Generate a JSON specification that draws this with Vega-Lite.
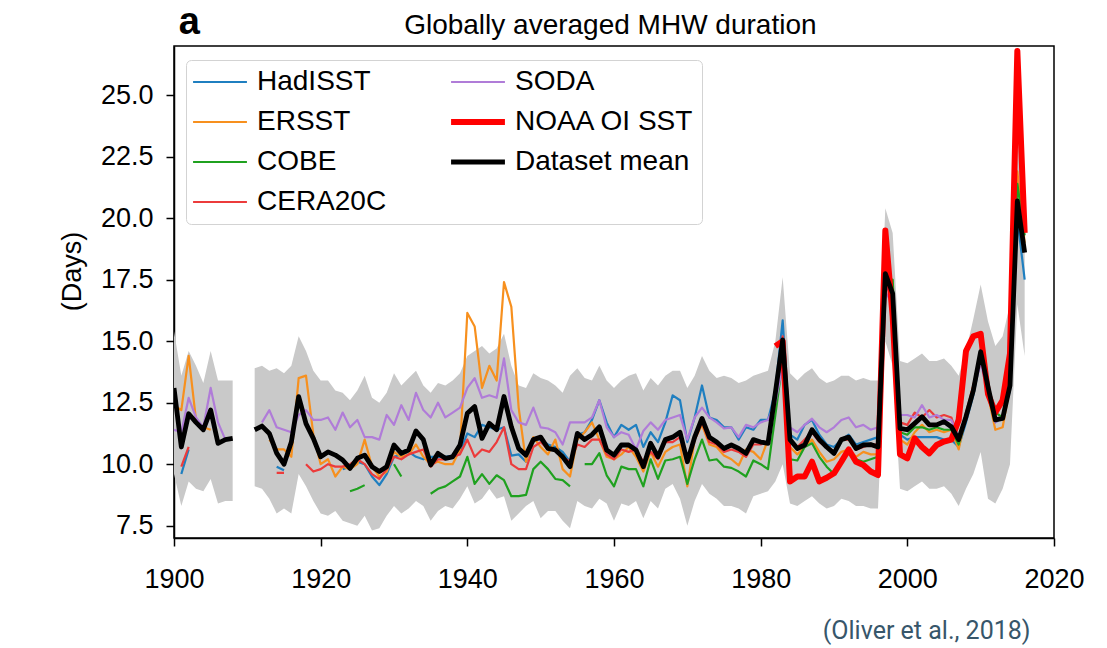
{
  "$schema": "https://vega.github.io/schema/vega-lite/v6.json",
  "width": 880,
  "height": 492,
  "autosize": {"type": "none"},
  "padding": {"left": 174, "top": 46, "right": 53, "bottom": 110},
  "background": "white",
  "config": {
    "view": {"stroke": "black", "strokeWidth": 1.5},
    "line": {"invalid": "break-paths-filter-domains"},
    "area": {"invalid": "break-paths-filter-domains"},
    "axis": {
      "grid": false,
      "domainColor": "black",
      "domainWidth": 1.5,
      "tickColor": "black",
      "tickWidth": 1.5,
      "tickSize": 8,
      "labelFont": "Liberation Sans",
      "labelFontSize": 27,
      "labelColor": "black",
      "labelFlush": false,
      "titleFont": "Liberation Sans",
      "titleFontSize": 27,
      "titleFontWeight": "normal",
      "titleColor": "black"
    },
    "axisX": {"labelPadding": 20},
    "axisY": {
      "labelPadding": 13,
      "titleAngle": 270,
      "titleX": -102,
      "titleY": 225,
      "titleAlign": "center",
      "titleBaseline": "middle"
    },
    "legend": {
      "orient": "none",
      "legendX": 12,
      "legendY": 14,
      "title": null,
      "columns": 2,
      "strokeColor": "#d3d3d3",
      "fillColor": "white",
      "cornerRadius": 5,
      "padding": 8,
      "labelFont": "Liberation Sans",
      "labelFontSize": 28,
      "labelColor": "black",
      "labelLimit": 0,
      "symbolOffset": 12,
      "labelOffset": 23,
      "symbolType": "stroke",
      "symbolSize": 2900,
      "symbolStrokeWidth": 2.2,
      "rowPadding": 12,
      "columnPadding": 52
    }
  },
  "data": {
    "values": [
      {"yr": 1900, "ers": 12.4, "soda": 11.4, "mean": 13.1, "lo": 9.6, "hi": 15.4},
      {"yr": 1901, "had": 9.6, "ers": 12.2, "cera": 9.9, "soda": 11.3, "mean": 10.7, "lo": 8.3, "hi": 13.6},
      {"yr": 1902, "had": 10.6, "ers": 14.4, "cera": 10.7, "soda": 12.7, "mean": 12.05, "lo": 9.3, "hi": 14.6},
      {"yr": 1903, "ers": 11.8, "soda": 11.9, "mean": 11.7, "lo": 9.0, "hi": 14.0},
      {"yr": 1904, "ers": 11.5, "soda": 11.5, "mean": 11.4, "lo": 8.9, "hi": 13.3},
      {"yr": 1905, "ers": 11.4, "soda": 13.1, "mean": 12.2, "lo": 9.4, "hi": 14.6},
      {"yr": 1906, "soda": 11.7, "mean": 10.85, "lo": 8.4, "hi": 13.4},
      {"yr": 1907, "soda": 11.0, "mean": 11.0, "lo": 8.5, "hi": 13.4},
      {"yr": 1908, "mean": 11.05, "lo": 8.5, "hi": 13.4},
      {"yr": 1909},
      {"yr": 1910},
      {"yr": 1911, "mean": 11.4, "lo": 9.1, "hi": 13.9},
      {"yr": 1912, "soda": 11.7, "mean": 11.55, "lo": 9.0, "hi": 14.0},
      {"yr": 1913, "ers": 11.0, "soda": 12.2, "mean": 11.25, "lo": 8.6, "hi": 13.8},
      {"yr": 1914, "had": 9.9, "ers": 10.6, "cera": 9.65, "soda": 11.5, "mean": 10.45, "lo": 8.0, "hi": 13.9},
      {"yr": 1915, "had": 9.75, "ers": 10.6, "cera": 9.65, "soda": 11.4, "mean": 10.0, "lo": 8.2, "hi": 13.7},
      {"yr": 1916, "ers": 10.3, "soda": 11.3, "mean": 10.9, "lo": 8.0, "hi": 14.0},
      {"yr": 1917, "ers": 13.5, "soda": 12.0, "mean": 12.75, "lo": 9.6, "hi": 15.2},
      {"yr": 1918, "ers": 13.6, "cera": 10.0, "soda": 12.2, "mean": 11.65, "lo": 9.1, "hi": 14.6},
      {"yr": 1919, "ers": 11.2, "cera": 9.7, "soda": 11.8, "mean": 11.05, "lo": 8.5, "hi": 13.8},
      {"yr": 1920, "ers": 10.0, "cera": 9.8, "soda": 11.8, "mean": 10.3, "lo": 8.0, "hi": 13.4},
      {"yr": 1921, "ers": 10.2, "cera": 10.0, "soda": 11.9, "mean": 10.5, "lo": 7.9, "hi": 13.4},
      {"yr": 1922, "ers": 9.5, "cera": 9.9, "soda": 11.4, "mean": 10.37, "lo": 8.1, "hi": 13.0},
      {"yr": 1923, "had": 9.8, "ers": 9.9, "cera": 9.9, "soda": 12.1, "mean": 10.17, "lo": 7.7, "hi": 12.9},
      {"yr": 1924, "had": 9.9, "ers": 9.8, "cobe": 8.9, "cera": 10.0, "soda": 11.5, "mean": 9.83, "lo": 7.6, "hi": 12.6},
      {"yr": 1925, "had": 10.1, "ers": 10.0, "cobe": 9.0, "cera": 10.2, "soda": 11.8, "mean": 10.24, "lo": 7.5, "hi": 13.0},
      {"yr": 1926, "had": 10.0, "ers": 11.0, "cobe": 9.15, "cera": 10.0, "soda": 11.1, "mean": 10.37, "lo": 7.9, "hi": 13.6},
      {"yr": 1927, "had": 9.5, "ers": 9.9, "cera": 9.6, "soda": 11.1, "mean": 9.9, "lo": 7.3, "hi": 12.7},
      {"yr": 1928, "had": 9.15, "ers": 9.5, "cera": 9.4, "soda": 11.0, "mean": 9.7, "lo": 7.4, "hi": 12.5},
      {"yr": 1929, "had": 9.6, "ers": 9.7, "cera": 9.8, "soda": 12.0, "mean": 9.9, "lo": 7.9, "hi": 12.9},
      {"yr": 1930, "had": 10.3, "ers": 10.5, "cobe": 10.0, "cera": 10.3, "soda": 11.6, "mean": 10.78, "lo": 8.3, "hi": 13.7},
      {"yr": 1931, "had": 10.4, "ers": 10.3, "cobe": 9.5, "cera": 10.2, "soda": 12.4, "mean": 10.44, "lo": 8.0, "hi": 13.2},
      {"yr": 1932, "had": 10.5, "ers": 10.4, "cera": 10.4, "soda": 11.8, "mean": 10.58, "lo": 8.2, "hi": 13.5},
      {"yr": 1933, "had": 10.3, "ers": 10.8, "cera": 10.5, "soda": 12.9, "mean": 11.35, "lo": 8.5, "hi": 13.8},
      {"yr": 1934, "had": 10.2, "ers": 10.3, "cera": 10.6, "soda": 12.2, "mean": 11.0, "lo": 8.3, "hi": 13.2},
      {"yr": 1935, "had": 10.3, "ers": 10.0, "cobe": 8.8, "cera": 9.9, "soda": 11.9, "mean": 9.97, "lo": 7.7, "hi": 12.9},
      {"yr": 1936, "had": 10.3, "ers": 10.1, "cobe": 9.0, "cera": 10.2, "soda": 12.5, "mean": 10.44, "lo": 8.1, "hi": 13.3},
      {"yr": 1937, "had": 10.3, "ers": 10.0, "cobe": 9.1, "cera": 10.2, "soda": 11.9, "mean": 10.24, "lo": 8.3, "hi": 13.2},
      {"yr": 1938, "had": 10.35, "ers": 10.0, "cobe": 9.3, "cera": 10.3, "soda": 12.1, "mean": 10.3, "lo": 8.2, "hi": 13.4},
      {"yr": 1939, "had": 10.5, "ers": 10.6, "cobe": 9.5, "cera": 10.4, "soda": 12.3, "mean": 10.78, "lo": 8.6, "hi": 13.7},
      {"yr": 1940, "had": 11.25, "ers": 16.15, "cobe": 10.3, "cera": 11.0, "soda": 13.1, "mean": 12.07, "lo": 9.1, "hi": 14.4},
      {"yr": 1941, "had": 11.1, "ers": 15.6, "cobe": 9.2, "cera": 10.3, "soda": 13.5, "mean": 12.34, "lo": 8.4, "hi": 14.6},
      {"yr": 1942, "had": 11.6, "ers": 13.1, "cobe": 9.6, "cera": 10.6, "soda": 12.7, "mean": 11.05, "lo": 8.6, "hi": 14.8},
      {"yr": 1943, "had": 11.5, "ers": 14.0, "cobe": 9.2, "cera": 10.5, "soda": 12.8, "mean": 11.66, "lo": 9.0, "hi": 14.5},
      {"yr": 1944, "had": 11.4, "ers": 13.4, "cobe": 9.55, "cera": 10.9, "soda": 12.7, "mean": 11.4, "lo": 8.6, "hi": 14.7},
      {"yr": 1945, "had": 11.5, "ers": 17.4, "cobe": 9.35, "cera": 11.5, "soda": 14.3, "mean": 12.75, "lo": 8.7, "hi": 15.3},
      {"yr": 1946, "had": 10.35, "ers": 16.4, "cobe": 8.7, "cera": 10.0, "soda": 12.2, "mean": 11.52, "lo": 7.7, "hi": 14.0},
      {"yr": 1947, "had": 10.4, "ers": 12.3, "cobe": 8.7, "cera": 9.8, "soda": 11.7, "mean": 10.64, "lo": 8.0, "hi": 13.2},
      {"yr": 1948, "had": 10.1, "ers": 10.1, "cobe": 8.75, "cera": 9.8, "soda": 11.6, "mean": 10.37, "lo": 8.3, "hi": 13.1},
      {"yr": 1949, "had": 11.0, "ers": 11.1, "cobe": 9.8, "cera": 10.7, "soda": 12.3, "mean": 11.0, "lo": 8.5, "hi": 13.7},
      {"yr": 1950, "had": 11.0, "ers": 10.7, "cobe": 10.1, "cera": 10.9, "soda": 11.5, "mean": 11.1, "lo": 7.8, "hi": 13.5},
      {"yr": 1951, "had": 10.8, "ers": 10.4, "cobe": 9.8, "cera": 10.6, "soda": 11.45, "mean": 10.64, "lo": 8.1, "hi": 13.4},
      {"yr": 1952, "had": 10.7, "ers": 11.0, "cobe": 9.4, "cera": 10.6, "soda": 11.3, "mean": 10.58, "lo": 8.1, "hi": 13.2},
      {"yr": 1953, "had": 10.5, "ers": 9.8, "cobe": 9.35, "cera": 10.3, "soda": 10.8, "mean": 10.3, "lo": 7.7, "hi": 12.9},
      {"yr": 1954, "had": 10.1, "ers": 9.5, "cobe": 9.1, "cera": 10.1, "soda": 11.7, "mean": 9.9, "lo": 7.4, "hi": 13.6},
      {"yr": 1955, "had": 11.2, "ers": 11.0, "cera": 10.8, "soda": 11.7, "mean": 11.25, "lo": 8.5, "hi": 13.9},
      {"yr": 1956, "had": 11.3, "ers": 11.3, "cobe": 10.0, "cera": 10.7, "soda": 11.7, "mean": 11.0, "lo": 8.3, "hi": 13.5},
      {"yr": 1957, "had": 11.8, "ers": 11.7, "cobe": 10.0, "cera": 11.0, "soda": 11.9, "mean": 11.2, "lo": 8.2, "hi": 13.4},
      {"yr": 1958, "had": 12.6, "ers": 11.0, "cobe": 10.45, "cera": 11.0, "soda": 12.6, "mean": 11.52, "lo": 8.6, "hi": 14.0},
      {"yr": 1959, "had": 11.7, "ers": 10.3, "cobe": 9.55, "cera": 10.4, "soda": 11.5, "mean": 10.58, "lo": 8.4, "hi": 13.4},
      {"yr": 1960, "had": 11.1, "ers": 10.2, "cobe": 9.1, "cera": 10.2, "soda": 11.1, "mean": 10.37, "lo": 7.7, "hi": 13.1},
      {"yr": 1961, "had": 11.6, "ers": 10.4, "cobe": 9.9, "cera": 10.6, "soda": 11.3, "mean": 10.78, "lo": 8.4, "hi": 13.4},
      {"yr": 1962, "had": 11.4, "ers": 10.7, "cobe": 9.8, "cera": 10.5, "soda": 11.2, "mean": 10.78, "lo": 8.3, "hi": 13.6},
      {"yr": 1963, "had": 11.6, "ers": 10.3, "cobe": 9.8, "cera": 10.6, "soda": 10.6, "mean": 10.58, "lo": 8.5, "hi": 13.7},
      {"yr": 1964, "had": 10.7, "ers": 9.7, "cobe": 9.1, "cera": 10.1, "soda": 11.35, "mean": 9.9, "lo": 7.8, "hi": 13.0},
      {"yr": 1965, "had": 11.3, "ers": 10.5, "cobe": 10.2, "cera": 10.5, "soda": 11.7, "mean": 10.85, "lo": 8.5, "hi": 13.5},
      {"yr": 1966, "had": 10.9, "ers": 9.9, "cobe": 9.4, "cera": 10.2, "soda": 11.4, "mean": 10.3, "lo": 8.2, "hi": 13.2},
      {"yr": 1967, "had": 11.7, "ers": 10.5, "cobe": 10.15, "cera": 10.9, "soda": 11.8, "mean": 11.0, "lo": 9.0, "hi": 13.6},
      {"yr": 1968, "had": 12.8, "ers": 10.7, "cobe": 10.2, "cera": 10.9, "soda": 11.9, "mean": 11.1, "lo": 9.2, "hi": 13.8},
      {"yr": 1969, "had": 12.6, "ers": 10.8, "cobe": 10.3, "cera": 11.1, "soda": 12.0, "mean": 11.3, "lo": 8.6, "hi": 13.8},
      {"yr": 1970, "had": 10.9, "ers": 9.1, "cobe": 9.2, "cera": 10.1, "soda": 11.0, "mean": 10.1, "lo": 7.5, "hi": 13.1},
      {"yr": 1971, "had": 11.9, "ers": 11.0, "cobe": 10.2, "cera": 11.0, "soda": 11.9, "mean": 11.1, "lo": 8.5, "hi": 13.6},
      {"yr": 1972, "had": 13.2, "ers": 11.6, "cobe": 11.0, "cera": 11.7, "soda": 12.3, "mean": 11.86, "lo": 9.2, "hi": 14.4},
      {"yr": 1973, "had": 11.9, "ers": 10.8, "cobe": 10.15, "cera": 10.9, "soda": 11.9, "mean": 11.1, "lo": 8.8, "hi": 13.8},
      {"yr": 1974, "had": 11.8, "ers": 10.7, "cobe": 10.2, "cera": 10.8, "soda": 11.7, "mean": 10.9, "lo": 8.6, "hi": 13.5},
      {"yr": 1975, "had": 11.5, "ers": 10.35, "cobe": 9.9, "cera": 10.5, "soda": 11.45, "mean": 10.64, "lo": 8.3, "hi": 13.6},
      {"yr": 1976, "had": 11.5, "ers": 10.2, "cobe": 9.85, "cera": 10.6, "soda": 11.5, "mean": 10.78, "lo": 8.3, "hi": 13.5},
      {"yr": 1977, "had": 11.0, "ers": 9.95, "cobe": 9.7, "cera": 10.5, "soda": 11.1, "mean": 10.64, "lo": 8.2, "hi": 13.3},
      {"yr": 1978, "had": 11.5, "ers": 10.6, "cobe": 9.5, "cera": 10.3, "soda": 11.6, "mean": 10.44, "lo": 8.0, "hi": 13.4},
      {"yr": 1979, "had": 11.4, "ers": 10.5, "cobe": 10.15, "cera": 10.8, "soda": 11.5, "mean": 11.0, "lo": 8.7, "hi": 13.6},
      {"yr": 1980, "had": 11.8, "ers": 10.2, "cobe": 10.0, "cera": 10.8, "soda": 11.7, "mean": 10.9, "lo": 8.8, "hi": 13.7},
      {"yr": 1981, "had": 11.8, "ers": 11.0, "cobe": 9.8, "cera": 10.9, "soda": 11.8, "mean": 10.85, "lo": 8.9, "hi": 13.8},
      {"yr": 1982, "had": 13.0, "ers": 12.4, "cobe": 12.0, "cera": 12.6, "soda": 12.5, "noaa": 14.8, "mean": 12.9, "lo": 9.3, "hi": 15.0},
      {"yr": 1983, "had": 15.85, "ers": 14.6, "cobe": 14.2, "cera": 15.2, "soda": 14.0, "noaa": 15.0, "mean": 15.05, "lo": 10.0, "hi": 17.6},
      {"yr": 1984, "had": 11.2, "ers": 10.7, "cobe": 10.2, "cera": 11.0, "soda": 11.5, "noaa": 9.3, "mean": 11.0, "lo": 8.4, "hi": 13.7},
      {"yr": 1985, "had": 11.0, "ers": 10.4, "cobe": 10.15, "cera": 10.7, "soda": 11.3, "noaa": 9.5, "mean": 10.64, "lo": 8.3, "hi": 13.4},
      {"yr": 1986, "had": 11.6, "ers": 10.7, "cobe": 10.7, "cera": 11.0, "soda": 11.6, "noaa": 9.5, "mean": 10.78, "lo": 8.5, "hi": 13.7},
      {"yr": 1987, "had": 11.8, "ers": 11.0, "cobe": 10.85, "cera": 11.3, "soda": 11.85, "noaa": 10.1, "mean": 11.4, "lo": 8.7, "hi": 13.9},
      {"yr": 1988, "had": 11.2, "ers": 10.5, "cobe": 10.3, "cera": 10.9, "soda": 11.5, "noaa": 9.3, "mean": 11.0, "lo": 8.4, "hi": 13.5},
      {"yr": 1989, "had": 10.8, "ers": 10.1, "cobe": 9.9, "cera": 10.7, "soda": 11.3, "noaa": 9.45, "mean": 10.7, "lo": 8.2, "hi": 13.3},
      {"yr": 1990, "had": 10.7, "ers": 10.2, "cobe": 9.6, "cera": 10.5, "soda": 11.5, "noaa": 9.63, "mean": 10.44, "lo": 8.3, "hi": 13.4},
      {"yr": 1991, "had": 11.0, "ers": 10.5, "cobe": 10.15, "cera": 11.0, "soda": 11.8, "noaa": 10.1, "mean": 11.0, "lo": 8.6, "hi": 13.6},
      {"yr": 1992, "had": 11.2, "ers": 10.6, "cobe": 10.6, "cera": 11.0, "soda": 11.9, "noaa": 10.6, "mean": 11.1, "lo": 8.5, "hi": 13.6},
      {"yr": 1993, "had": 10.8, "ers": 10.3, "cobe": 10.2, "cera": 10.6, "soda": 11.5, "noaa": 10.1, "mean": 10.64, "lo": 8.3, "hi": 13.4},
      {"yr": 1994, "had": 10.9, "ers": 10.5, "cobe": 10.1, "cera": 10.7, "soda": 11.6, "noaa": 9.97, "mean": 10.78, "lo": 8.3, "hi": 13.5},
      {"yr": 1995, "had": 11.0, "ers": 10.4, "cobe": 10.2, "cera": 10.8, "soda": 11.4, "noaa": 9.7, "mean": 10.8, "lo": 8.2, "hi": 13.4},
      {"yr": 1996, "had": 11.1, "ers": 10.4, "cobe": 10.3, "cera": 10.8, "soda": 11.5, "noaa": 9.56, "mean": 10.7, "lo": 8.2, "hi": 13.4},
      {"yr": 1997, "had": 17.3, "ers": 17.5, "cobe": 17.6, "cera": 17.6, "soda": 17.0, "noaa": 19.5, "mean": 17.75, "lo": 15.0, "hi": 20.4},
      {"yr": 1998, "had": 16.8, "ers": 17.0, "cobe": 17.5, "cera": 17.0, "soda": 16.5, "noaa": 16.0, "mean": 16.94, "lo": 14.0, "hi": 19.4},
      {"yr": 1999, "had": 11.2, "ers": 11.0, "cobe": 11.3, "cera": 11.7, "soda": 12.0, "noaa": 10.4, "mean": 11.46, "lo": 9.0, "hi": 14.2},
      {"yr": 2000, "had": 11.0, "ers": 10.8, "cobe": 11.2, "cera": 11.6, "soda": 12.0, "noaa": 10.24, "mean": 11.4, "lo": 8.9, "hi": 14.1},
      {"yr": 2001, "had": 11.1, "ers": 11.3, "cobe": 11.5, "cera": 12.1, "soda": 11.9, "noaa": 11.05, "mean": 11.66, "lo": 9.1, "hi": 14.3},
      {"yr": 2002, "had": 11.1, "ers": 11.6, "cobe": 11.5, "cera": 11.9, "soda": 12.4, "noaa": 10.7, "mean": 11.93, "lo": 9.3, "hi": 14.5},
      {"yr": 2003, "had": 11.1, "ers": 11.3, "cobe": 11.4, "cera": 12.2, "soda": 11.9, "noaa": 10.44, "mean": 11.6, "lo": 9.0, "hi": 14.2},
      {"yr": 2004, "had": 11.1, "ers": 11.4, "cobe": 11.5, "cera": 11.9, "soda": 12.0, "noaa": 10.78, "mean": 11.6, "lo": 9.0, "hi": 14.2},
      {"yr": 2005, "had": 11.0, "ers": 11.3, "cobe": 11.4, "cera": 12.0, "soda": 11.8, "noaa": 10.92, "mean": 11.73, "lo": 9.1, "hi": 14.3},
      {"yr": 2006, "had": 11.0, "ers": 11.4, "cobe": 11.4, "cera": 11.9, "soda": 11.8, "noaa": 11.0, "mean": 11.52, "lo": 8.8, "hi": 14.0},
      {"yr": 2007, "had": 10.7, "ers": 10.6, "cobe": 10.8, "cera": 11.0, "soda": 11.1, "noaa": 11.8, "mean": 11.0, "lo": 8.3, "hi": 13.6},
      {"yr": 2008, "had": 11.7, "ers": 12.0, "cobe": 11.9, "cera": 12.1, "soda": 12.0, "noaa": 14.6, "mean": 11.93, "lo": 9.0, "hi": 14.6},
      {"yr": 2009, "had": 12.8, "ers": 13.2, "cobe": 13.0, "cera": 13.2, "soda": 13.0, "noaa": 15.2, "mean": 13.0, "lo": 9.6, "hi": 15.9},
      {"yr": 2010, "had": 14.3, "ers": 14.4, "cobe": 14.4, "cera": 14.5, "soda": 14.1, "noaa": 15.3, "mean": 14.57, "lo": 10.5, "hi": 17.3},
      {"yr": 2011, "had": 12.9, "ers": 12.8, "cobe": 12.9, "soda": 12.9, "noaa": 12.86, "mean": 13.15, "lo": 8.6, "hi": 15.8},
      {"yr": 2012, "had": 11.7, "ers": 11.4, "cobe": 12.1, "soda": 11.7, "noaa": 12.1, "mean": 11.8, "lo": 8.4, "hi": 14.8},
      {"yr": 2013, "had": 11.9, "ers": 11.5, "cobe": 11.9, "soda": 11.9, "noaa": 12.6, "mean": 11.86, "lo": 9.0, "hi": 15.2},
      {"yr": 2014, "had": 13.0, "ers": 13.2, "cobe": 13.3, "noaa": 14.5, "mean": 13.2, "lo": 10.0, "hi": 16.5},
      {"yr": 2015, "had": 20.0, "ers": 21.9, "cobe": 21.4, "noaa": 26.8, "mean": 20.7, "lo": 16.5, "hi": 26.3},
      {"yr": 2016, "had": 17.5, "ers": 19.0, "cobe": 19.3, "noaa": 19.4, "mean": 18.6, "lo": 14.4, "hi": 21.5}
    ]
  },
  "encoding": {
    "x": {
      "field": "yr",
      "type": "quantitative",
      "scale": {"domain": [1900, 2020], "nice": false, "zero": false},
      "axis": {
        "values": [1900, 1920, 1940, 1960, 1980, 2000, 2020],
        "format": "d",
        "title": "(Oliver et al., 2018)",
        "titleFont": "Roboto",
        "titleFontSize": 25,
        "titleColor": "#37566a",
        "titleAlign": "right",
        "titleX": 856,
        "titleY": 100,
        "titleBaseline": "alphabetic"
      }
    }
  },
  "layer": [
    {
      "mark": {"type": "area", "color": "#c9c9c9", "opacity": 1, "clip": true},
      "encoding": {
        "y": {
          "field": "hi",
          "type": "quantitative",
          "title": "(Days)",
          "scale": {"domain": [7, 27], "nice": false, "zero": false},
          "axis": {"values": [7.5, 10, 12.5, 15, 17.5, 20, 22.5, 25], "format": ".1f"}
        },
        "y2": {"field": "lo"}
      }
    },
    {
      "mark": {"type": "line", "strokeWidth": 2.2, "strokeJoin": "round", "clip": true},
      "encoding": {
        "y": {"field": "had", "type": "quantitative", "title": "(Days)", "axis": {"values": [7.5, 10, 12.5, 15, 17.5, 20, 22.5, 25], "format": ".1f"}},
        "color": {
          "datum": "HadISST",
          "type": "nominal",
          "scale": {
            "domain": ["HadISST", "ERSST", "COBE", "CERA20C", "SODA", "NOAA OI SST", "Dataset mean"],
            "range": ["#1f7fc0", "#f7901e", "#1fa11f", "#ec3b3b", "#b07cd8", "#ff0000", "#000000"]
          },
          "legend": {
            "encode": {
              "symbols": {
                "update": {
                  "strokeWidth": {"signal": "datum.value === 'NOAA OI SST' ? 6 : (datum.value === 'Dataset mean' ? 4.8 : 2.2)"}
                }
              }
            }
          }
        }
      }
    },
    {
      "mark": {"type": "line", "strokeWidth": 2.2, "strokeJoin": "round", "clip": true},
      "encoding": {
        "y": {"field": "ers", "type": "quantitative", "title": "(Days)", "axis": {"values": [7.5, 10, 12.5, 15, 17.5, 20, 22.5, 25], "format": ".1f"}},
        "color": {"datum": "ERSST", "type": "nominal"}
      }
    },
    {
      "mark": {"type": "line", "strokeWidth": 2.2, "strokeJoin": "round", "clip": true},
      "encoding": {
        "y": {"field": "cobe", "type": "quantitative", "title": "(Days)", "axis": {"values": [7.5, 10, 12.5, 15, 17.5, 20, 22.5, 25], "format": ".1f"}},
        "color": {"datum": "COBE", "type": "nominal"}
      }
    },
    {
      "mark": {"type": "line", "strokeWidth": 2.2, "strokeJoin": "round", "clip": true},
      "encoding": {
        "y": {"field": "cera", "type": "quantitative", "title": "(Days)", "axis": {"values": [7.5, 10, 12.5, 15, 17.5, 20, 22.5, 25], "format": ".1f"}},
        "color": {"datum": "CERA20C", "type": "nominal"}
      }
    },
    {
      "mark": {"type": "line", "strokeWidth": 2.2, "strokeJoin": "round", "clip": true},
      "encoding": {
        "y": {"field": "soda", "type": "quantitative", "title": "(Days)", "axis": {"values": [7.5, 10, 12.5, 15, 17.5, 20, 22.5, 25], "format": ".1f"}},
        "color": {"datum": "SODA", "type": "nominal"}
      }
    },
    {
      "mark": {"type": "line", "strokeWidth": 6, "strokeJoin": "round", "clip": true},
      "encoding": {
        "y": {"field": "noaa", "type": "quantitative", "title": "(Days)", "axis": {"values": [7.5, 10, 12.5, 15, 17.5, 20, 22.5, 25], "format": ".1f"}},
        "color": {"datum": "NOAA OI SST", "type": "nominal"}
      }
    },
    {
      "mark": {"type": "line", "strokeWidth": 4.8, "strokeJoin": "round", "clip": true},
      "encoding": {
        "y": {"field": "mean", "type": "quantitative", "title": "(Days)", "axis": {"values": [7.5, 10, 12.5, 15, 17.5, 20, 22.5, 25], "format": ".1f"}},
        "color": {"datum": "Dataset mean", "type": "nominal"}
      }
    },
    {
      "data": {"values": [{"panel": "a", "px": 1902.1, "py": 27.49}]},
      "mark": {"type": "text", "font": "Liberation Sans", "fontSize": 38, "fontWeight": "bold", "align": "center", "baseline": "alphabetic", "color": "black", "clip": false},
      "encoding": {
        "x": {"field": "px", "type": "quantitative"},
        "y": {"field": "py", "type": "quantitative"},
        "text": {"field": "panel"}
      }
    },
    {
      "data": {"values": [{"heading": "Globally averaged MHW duration", "px": 1959.5, "py": 27.47}]},
      "mark": {"type": "text", "font": "Liberation Sans", "fontSize": 28, "fontWeight": "normal", "align": "center", "baseline": "alphabetic", "color": "black", "clip": false},
      "encoding": {
        "x": {"field": "px", "type": "quantitative"},
        "y": {"field": "py", "type": "quantitative"},
        "text": {"field": "heading"}
      }
    }
  ]
}
